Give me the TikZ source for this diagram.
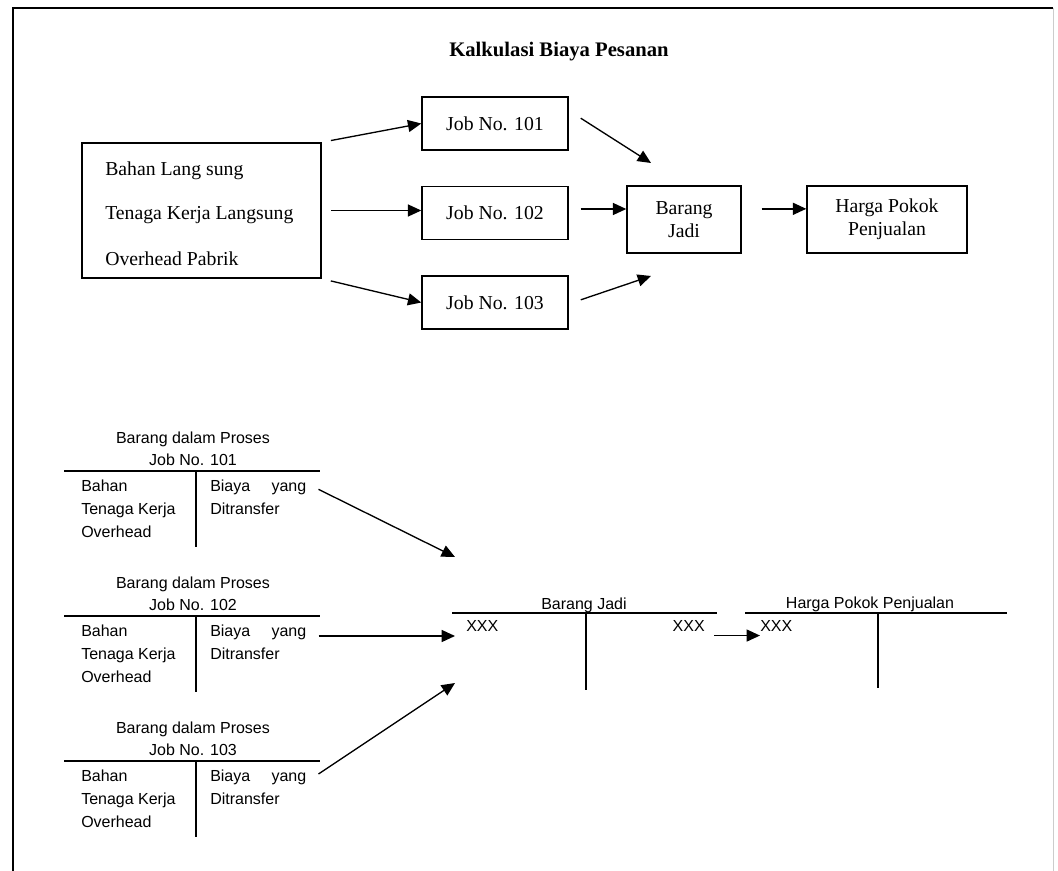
\documentclass[tikz,border=0pt]{standalone}
\usepackage{fontspec}
\setmainfont{Liberation Serif}
\setsansfont{Liberation Sans}
\usetikzlibrary{arrows.meta}

\begin{document}
\begin{tikzpicture}[x=0.75pt,y=-0.75pt,
  font=\fontsize{14.8}{17}\selectfont,
  box/.style={draw,line width=1.1pt,inner sep=0pt,align=center},
  jobbox/.style={box,minimum width=109.5pt,minimum height=39.75pt},
  arr/.style={line width=1pt,-{Triangle[length=10pt,width=9pt]}},
  tline/.style={line width=1pt},
  tfont/.style={font=\sffamily\fontsize{12}{16.5}\selectfont},
  tcol/.style={font=\sffamily\fontsize{12}{17}\selectfont,align=left,inner sep=0pt,anchor=north west}]

\useasboundingbox (0,0) rectangle (1058,871);
% frame of the page
\draw[line width=1pt] (13,871) -- (13,8) -- (1053,8);
\draw[black!20] (1053,8) -- (1053,871);

\node[font=\bfseries\fontsize{15.5}{18}\selectfont] (title) at (559,52) {Kalkulasi Biaya Pesanan};

% flow of costs
\node[box,minimum width=179.25pt,minimum height=101.25pt] (src) at (201.5,210.5) {};
\node[anchor=base west,inner sep=0pt] (bl) at (105,175) {Bahan Lang sung};
\node[anchor=base west,inner sep=0pt] (tkl) at (105,219) {Tenaga Kerja Langsung};
\node[anchor=base west,inner sep=0pt] (bop) at (105,265) {Overhead Pabrik};

\node[jobbox] (j1) at (495,123.5) {Job No. 101};
\node[jobbox] (j2) at (495,213) {Job No. 102};
\node[jobbox] (j3) at (495,302.5) {Job No. 103};
\node[box,minimum width=85.5pt,minimum height=50.25pt] (bj) at (684,219.5) {Barang\\Jadi};
\node[box,minimum width=120pt,minimum height=50.25pt] (hpp) at (887,219.5) {Harga Pokok\\Penjualan};
\coordinate (bjin1) at (651,163);
\coordinate (bjin3) at (651,276);

\draw[arr,shorten <=7pt] (src.north east) -- (j1.west);
\draw[arr,shorten <=7pt] (src.east) -- (src.east -| j2.west);
\draw[arr,shorten <=7pt] (src.south east) -- (j3.west);
\draw[arr] ([xshift=9pt,yshift=4pt]j1.east) -- (bjin1);
\draw[arr] ([xshift=9pt,yshift=3pt]j2.east) -- ([yshift=3pt]j2.east -| bj.west);
\draw[arr] ([xshift=9pt,yshift=2pt]j3.east) -- (bjin3);
\draw[arr] ([xshift=15pt,yshift=8pt]bj.east) -- ([yshift=8pt]hpp.west);

% t-accounts
\coordinate (fgin101) at (455,557);
\coordinate (fgin102) at (455,636);
\coordinate (fgin103) at (455,683);
\foreach \j/\dy/\sy in {101/0/-7pt,102/145/-8.25pt,103/290/-3pt}{
  \node[tfont,align=center,anchor=south,inner sep=1pt] (wip\j) at (193,467+\dy) {Barang dalam Proses\\Job No. \j};
  \draw[tline] (64,471+\dy) -- (320,471+\dy);
  \draw[tline] (196,471+\dy) -- (196,547+\dy);
  \node[tcol] (wipd\j) at (81,480+\dy) {Bahan\\Tenaga Kerja\\Overhead};
  \node[tcol] (wipk\j) at (210,480+\dy) {\makebox[72pt][s]{Biaya yang}\\Ditransfer};
  \draw[arr] ([xshift=9pt,yshift=\sy]wipk\j.north east) -- (fgin\j);
}

\node[tfont,anchor=base,inner sep=0pt] (fg) at (584,609) {Barang Jadi};
\draw[tline] (452,613) -- (717,613);
\draw[tline] (586,613) -- (586,690);
\node[tfont,anchor=north west,inner sep=0pt] (fgdr) at (466,620) {XXX};
\node[tfont,anchor=north east,inner sep=0pt] (fgcr) at (705,620) {XXX};

\node[tfont,anchor=base,inner sep=0pt] (cogs) at (870,608) {Harga Pokok Penjualan};
\draw[tline] (745,613) -- (1007,613);
\draw[tline] (878,613) -- (878,688);
\node[tfont,anchor=north west,inner sep=0pt] (cogsdr) at (760,620) {XXX};

\draw[arr] ([xshift=7pt,yshift=-3pt]fgcr.south east) -- ([yshift=-3pt]cogsdr.south west);
\end{tikzpicture}
\end{document}
